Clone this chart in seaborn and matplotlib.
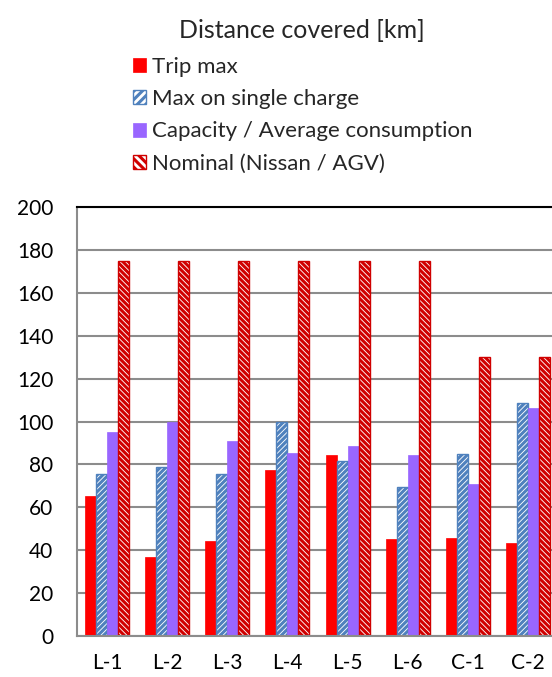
import matplotlib
matplotlib.use("Agg")
import matplotlib.pyplot as plt
import seaborn as sns
import pandas as pd
from matplotlib.patches import Patch

categories = ["L-1", "L-2", "L-3", "L-4", "L-5", "L-6", "C-1", "C-2"]
trip_max = [65.5, 37, 44.5, 77.5, 84.5, 45, 45.5, 43.5]
max_single_charge = [75.5, 79, 75.5, 100, 81.5, 69.5, 85, 108.5]
capacity_avg = [95, 100, 91, 85.5, 88.5, 84.5, 71, 106.5]
nominal = [175, 175, 175, 175, 175, 175, 130, 130]
series_names = ["Trip max", "Max on single charge",
                "Capacity / Average consumption", "Nominal (Nissan / AGV)"]
yticks = [0, 20, 40, 60, 80, 100, 120, 140, 160, 180, 200]

rows = []
for name, vals in zip(series_names, [trip_max, max_single_charge, capacity_avg, nominal]):
    for c, v in zip(categories, vals):
        rows.append({"cat": c, "series": name, "value": v})
df = pd.DataFrame(rows)

sns.set_theme(style="white")
plt.rcParams["font.family"] = ["Lato", "DejaVu Sans"]
plt.rcParams["hatch.linewidth"] = 2.2

fig = plt.figure(figsize=(5.52, 6.77), dpi=100)
ax = fig.add_axes([77 / 552, 41 / 677, 481 / 552, 429 / 677])

sns.barplot(data=df, x="cat", y="value", hue="series", order=categories,
            hue_order=series_names, width=0.73, gap=0, ax=ax, legend=False,
            errorbar=None)

styles = [
    dict(facecolor="#FF0000", edgecolor="#FF0000", hatch=None, lw=0.5),
    dict(facecolor="white", edgecolor="#4F81BD", hatch="//////", lw=1.0),
    dict(facecolor="#9966FF", edgecolor="#9966FF", hatch=None, lw=0.5),
    dict(facecolor="white", edgecolor="#D00000", hatch="\\\\\\\\\\\\", lw=1.0),
]
for cont, st in zip(ax.containers, styles):
    for p in cont:
        p.set_facecolor(st["facecolor"])
        p.set_edgecolor(st["edgecolor"])
        p.set_linewidth(st["lw"])
        if st["hatch"]:
            p.set_hatch(st["hatch"])

ax.set_xlim(-0.5, 7.5)
ax.set_ylim(0, 200)
ax.set_yticks(yticks)
ax.set_xlabel("")
ax.set_ylabel("")
ax.grid(axis="y", color="#8C8C8C", linewidth=1.5)
ax.set_axisbelow(True)
for s in ["left", "bottom"]:
    ax.spines[s].set_color("#8C8C8C")
    ax.spines[s].set_linewidth(1.5)
ax.spines["top"].set_color("black")
ax.spines["top"].set_linewidth(1.5)
ax.spines["right"].set_visible(False)
ax.tick_params(axis="y", labelsize=15, pad=17, length=0, colors="black")
ax.tick_params(axis="x", labelsize=15, pad=12, length=0, colors="black")

fig.text(302 / 552, 1 - 30 / 677, "Distance covered [km]", ha="center",
         va="center", fontsize=18)

handles = []
for name, st in zip(series_names, styles):
    handles.append(Patch(facecolor=st["facecolor"], edgecolor=st["edgecolor"],
                         hatch=("////" if st["hatch"] == "//////" else ("\\\\\\\\" if st["hatch"] else None)),
                         linewidth=st["lw"], label=name))
fig.legend(handles=handles, loc="upper left", bbox_to_anchor=(133 / 552, 1 - 57 / 677),
           frameon=False, fontsize=16, handlelength=0.6, handleheight=0.6,
           handletextpad=0.25, labelspacing=0.55, borderpad=0, borderaxespad=0)

fig.savefig("out.png", dpi=100)
